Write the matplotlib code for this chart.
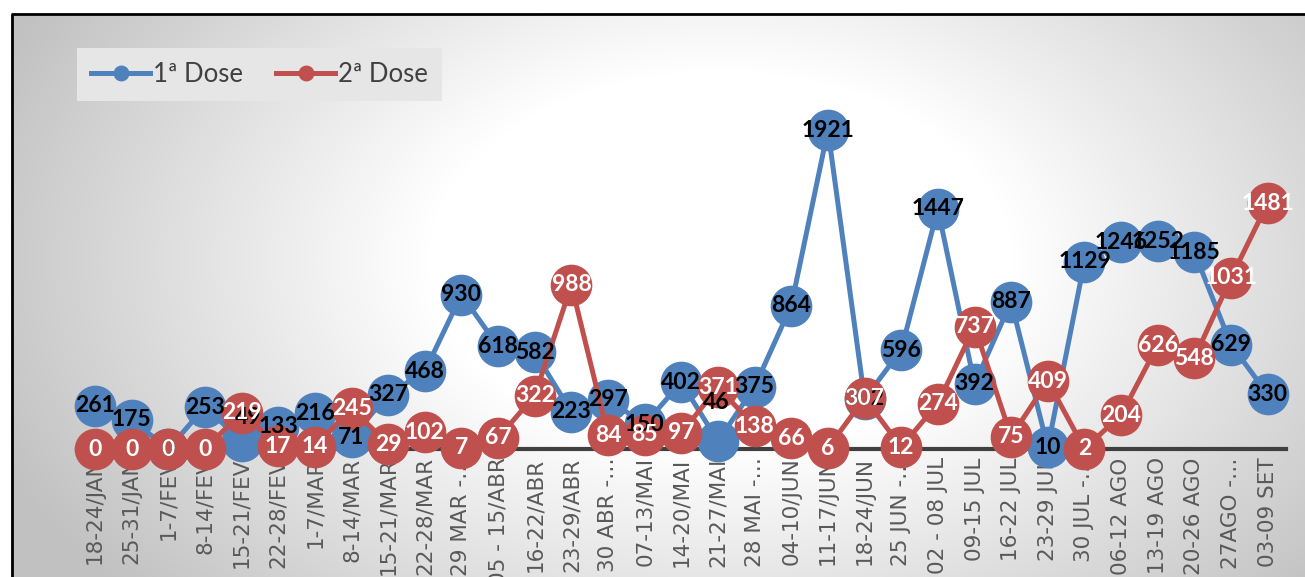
import numpy as np
import matplotlib
matplotlib.use("Agg")
import matplotlib.pyplot as plt

categories = ["18-24/JAN", "25-31/JAN", "1-7/FEV", "8-14/FEV", "15-21/FEV", "22-28/FEV",
              "1-7/MAR", "8-14/MAR", "15-21/MAR", "22-28/MAR", "29 MAR -…", "05 - 15/ABR",
              "16-22/ABR", "23-29/ABR", "30 ABR -…", "07-13/MAI", "14-20/MAI", "21-27/MAI",
              "28 MAI -…", "04-10/JUN", "11-17/JUN", "18-24/JUN", "25 JUN -…", "02 - 08 JUL",
              "09-15 JUL", "16-22 JUL", "23-29 JUL", "30 JUL -…", "06-12 AGO", "13-19 AGO",
              "20-26 AGO", "27AGO -…", "03-09 SET"]
dose1 = [261, 175, 0, 253, 49, 133, 216, 71, 327, 468, 930, 618, 582, 223, 297, 150, 402,
         46, 375, 864, 1921, 302, 596, 1447, 392, 887, 10, 1129, 1246, 1252, 1185, 629, 330]
dose2 = [0, 0, 0, 0, 219, 17, 14, 245, 29, 102, 7, 67, 322, 988, 84, 85, 97, 371, 138, 66,
         6, 307, 12, 274, 737, 75, 409, 2, 204, 626, 548, 1031, 1481]
series_names = ["1ª Dose", "2ª Dose"]

BLUE = "#4F81BD"
RED = "#C0504D"
W, H = 1305, 577

fig = plt.figure(figsize=(W / 100, H / 100), dpi=100)

# background radial gradient
bg = fig.add_axes([0, 0, 1, 1], zorder=-10)
yy, xx = np.mgrid[0:H, 0:W]
r = np.sqrt(((xx - 720) / 650.0) ** 2 + ((yy - 260) / 420.0) ** 2)
val = 1 - 0.24 * np.clip((r - 0.45) / 0.75, 0, 1)
val[(xx < 11) | (yy < 14)] = 1.0
img = np.dstack([val, val, val])
bg.imshow(img, extent=[0, W, H, 0], aspect="auto", interpolation="bilinear")
bg.plot([11.5, 11.5], [H, 13.5], color="black", lw=2.0, solid_capstyle="butt")
bg.plot([10.5, W], [13.5, 13.5], color="black", lw=2.0, solid_capstyle="butt")
bg.set_xlim(0, W)
bg.set_ylim(H, 0)
bg.axis("off")

left = 76.7 / W
width = (1286 - 76.7) / W
bottom = (H - 449) / H
height = 332 / H
ax = fig.add_axes([left, bottom, width, height])
ax.set_facecolor("none")

x = np.arange(len(categories))
ax.axhline(0, color="#404040", lw=3.0, zorder=1, clip_on=False)
l1, = ax.plot(x, dose1, color=BLUE, lw=3.6, marker="o", markersize=29,
              markerfacecolor=BLUE, markeredgecolor=BLUE, zorder=3, clip_on=False,
              label=series_names[0])
l2, = ax.plot(x, dose2, color=RED, lw=3.6, marker="o", markersize=29,
              markerfacecolor=RED, markeredgecolor=RED, zorder=4, clip_on=False,
              label=series_names[1])

label_font = dict(family=["Lato", "DejaVu Sans"], weight="bold", size=16.5)
offsets1 = {4: (5, 17), 17: (-1, 28)}
for i, v in enumerate(dose1):
    dx, dy = offsets1.get(i, (0, 0))
    ax.annotate(str(v), (i, v), xytext=(dx, dy), textcoords="offset points",
                ha="center", va="center", color="black", zorder=6,
                annotation_clip=False, **label_font)
for i, v in enumerate(dose2):
    ax.annotate(str(v), (i, v), xytext=(0, 0), textcoords="offset points",
                ha="center", va="center", color="white", zorder=7,
                annotation_clip=False, **label_font)

ax.set_xlim(-0.5, len(categories) - 0.5)
ax.set_ylim(0, 2000)
ax.set_xticks(x)
ax.set_xticklabels(categories, rotation=90, ha="center", va="top",
                   fontsize=15.5, color="#595959", family=["DejaVu Sans"])
ax.tick_params(axis="x", length=0, pad=6)
ax.set_yticks([])
for s in ax.spines.values():
    s.set_visible(False)

leg = fig.legend(handles=[l1, l2], loc="upper left",
                 bbox_to_anchor=(77 / W, 1 - 48 / H), ncol=2, frameon=True,
                 fancybox=False, facecolor="#e6e6e6", edgecolor="none", framealpha=1,
                 markerscale=0.36, handlelength=2.3, handletextpad=0.1,
                 columnspacing=1.3, borderpad=0.55, borderaxespad=0,
                 prop=dict(family="Lato", size=18.5))
for t in leg.get_texts():
    t.set_color("#404040")

fig.savefig("out.png", dpi=100)
